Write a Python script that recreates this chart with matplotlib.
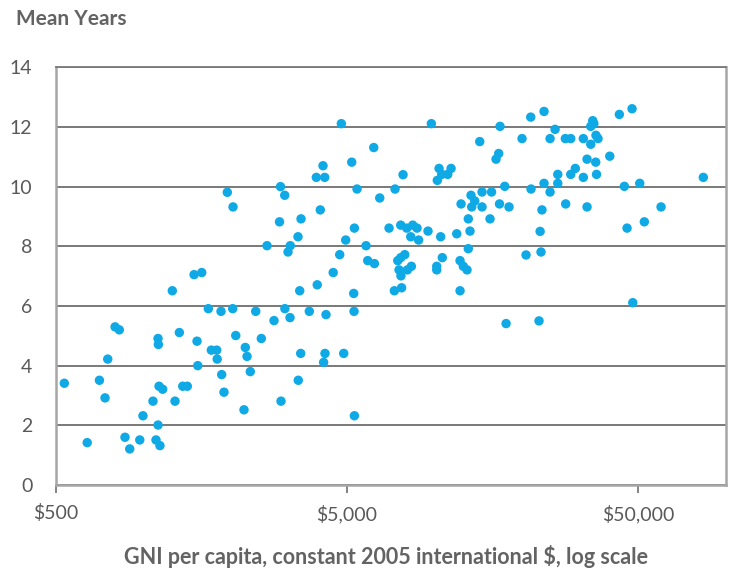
import matplotlib
matplotlib.use("Agg")
import matplotlib.pyplot as plt
from matplotlib.ticker import FixedLocator, FixedFormatter, NullLocator

plt.rcParams['font.family'] = ['Lato', 'DejaVu Sans']

# GNI per capita (constant 2005 international $) and mean years of schooling
gni = [
    534, 640, 705, 737, 753, 798, 825, 863, 896, 970,
    995, 1077, 1103, 1121, 1121, 1124, 1130, 1138, 1163, 1255,
    1282, 1327, 1363, 1413, 1491, 1526, 1535, 1584, 1669, 1709,
    1783, 1790, 1845, 1855, 1889, 1939, 2024, 2029, 2073, 2213,
    2236, 2267, 2326, 2428, 2538, 2655, 2806, 2931, 2954, 2966,
    3054, 3058, 3135, 3192, 3185, 3393, 3400, 3439, 3466, 3475,
    3710, 3922, 3950, 4047, 4135, 4155, 4191, 4200, 4234, 4482,
    4719, 4780, 4871, 4948, 5190, 5272, 5285, 5300, 5300, 5412,
    5812, 5890, 6178, 6210, 6477, 6972, 7272, 7310, 7470, 7547,
    7648, 7648, 7660, 7700, 7788, 7894, 8020, 8060, 8278, 8320,
    8411, 8700, 8810, 9490, 9744, 10168, 10168, 10215, 10357, 10490,
    10578, 10625, 11092, 11389, 11912, 12227, 12227, 12325, 12548, 12920,
    13053, 13053, 13230, 13335, 13410, 13734, 14289, 14552, 14552, 15500,
    15690, 16255, 16603, 16710, 16778, 17413, 17600, 18014, 19970, 20610,
    21393, 21440, 22840, 23040, 23200, 23380, 23765, 23765, 24925, 24925,
    25935, 26493, 26493, 28130, 28200, 29355, 29355, 30440, 32430, 32430,
    33395, 33395, 34390, 34390, 34935, 35240, 35770, 35840, 36000, 36430,
    39975, 43125, 44870, 45830, 47685, 47960, 50670, 52550, 59980, 83800,
]
mean_years = [
    3.41, 1.42, 3.51, 2.92, 4.22, 5.30, 5.20, 1.60, 1.21, 1.51,
    2.32, 2.81, 1.51, 2.01, 4.91, 4.71, 3.31, 1.32, 3.21, 6.51,
    2.81, 5.11, 3.31, 3.31, 7.05, 4.82, 4.00, 7.12, 5.91, 4.52,
    4.52, 4.22, 5.82, 3.70, 3.11, 9.81, 5.91, 9.32, 5.01, 2.52,
    4.61, 4.31, 3.80, 5.82, 4.91, 8.02, 5.51, 8.82, 10.00, 2.81,
    9.71, 5.91, 7.81, 8.02, 5.61, 8.32, 3.51, 6.51, 4.41, 8.92,
    5.82, 10.31, 6.71, 9.22, 10.70, 4.11, 10.31, 4.41, 5.71, 7.12,
    7.72, 12.11, 4.41, 8.21, 10.82, 6.42, 5.82, 8.61, 2.32, 9.92,
    8.02, 7.52, 11.31, 7.42, 9.62, 8.61, 6.51, 9.92, 7.52, 7.21,
    8.71, 7.62, 7.01, 6.61, 10.40, 7.72, 8.61, 7.21, 8.32, 7.33,
    8.71, 8.61, 8.21, 8.51, 12.11, 7.33, 7.21, 10.21, 10.61, 8.32,
    10.41, 7.62, 10.41, 10.61, 8.42, 7.52, 6.51, 9.42, 7.33, 7.21,
    8.92, 7.92, 8.51, 9.71, 9.32, 9.52, 11.51, 9.82, 9.32, 8.92,
    9.82, 10.92, 11.11, 9.42, 12.02, 10.01, 5.41, 9.32, 11.61, 7.71,
    12.33, 9.92, 5.50, 8.50, 7.81, 9.22, 12.52, 10.11, 11.61, 9.82,
    11.92, 10.41, 10.11, 11.61, 9.42, 11.61, 10.41, 10.61, 11.61, 10.31,
    10.92, 9.32, 12.02, 11.42, 12.21, 12.11, 10.82, 11.72, 10.41, 11.61,
    11.02, 12.42, 10.01, 8.61, 12.61, 6.11, 10.11, 8.82, 9.32, 10.31,
]

x_ticks = [500, 5000, 50000]
x_tick_labels = ["$500", "$5,000", "$50,000"]
y_ticks = [0, 2, 4, 6, 8, 10, 12, 14]

text_grey = "#595959"

fig = plt.figure(figsize=(7.31, 5.80), dpi=100)
ax = fig.add_axes([0.0766, 0.1638, 0.9166, 0.7202])

ax.scatter(gni, mean_years, s=46, color="#0fa9e6", edgecolors="none", zorder=3)

ax.set_xscale("log")
ax.set_xlim(500, 100300)
ax.set_ylim(0, 14)

ax.xaxis.set_major_locator(FixedLocator(x_ticks))
ax.xaxis.set_major_formatter(FixedFormatter(x_tick_labels))
ax.xaxis.set_minor_locator(NullLocator())
ax.set_yticks(y_ticks)

ax.grid(axis="y", color="#6e6e6e", linewidth=1.3, zorder=1)
ax.set_axisbelow(True)

for side in ["left", "right", "bottom"]:
    ax.spines[side].set_color("#a6a6a6")
    ax.spines[side].set_linewidth(1.8)
ax.spines["top"].set_color("#7a7a7a")
ax.spines["top"].set_linewidth(1.3)

ax.tick_params(axis="x", length=6, width=1.2, color="#6e6e6e", direction="out",
               labelsize=14, labelcolor=text_grey, pad=8)
ax.tick_params(axis="y", length=0, labelsize=14, labelcolor=text_grey, pad=17)

fig.text(0.022, 0.968, "Mean Years", fontsize=15, fontweight="bold",
         color="#636363", va="center", ha="left")
fig.text(0.528, 0.040, "GNI per capita, constant 2005 international $, log scale",
         fontsize=15.5, fontweight="bold", color="#636363", ha="center", va="center")

fig.savefig("out.png", dpi=100)
